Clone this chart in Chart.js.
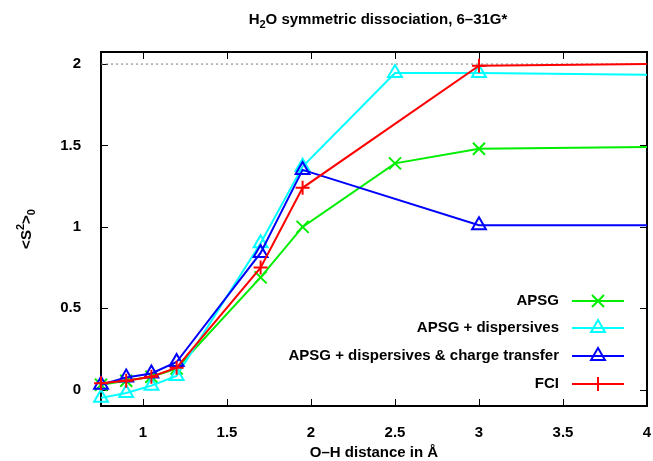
<!DOCTYPE html>
<html><head><meta charset="utf-8">
<script src="https://cdn.jsdelivr.net/npm/chart.js@4/dist/chart.umd.min.js"></script>
<style>html,body{margin:0;padding:0;background:#fff;overflow:hidden}#wrap{width:653px;height:461px;position:relative}</style>
</head><body><div id="wrap"><canvas id="c" width="653" height="461"></canvas></div>
<script>
const FONT = '"Liberation Sans Narrow", "Liberation Sans", Arial, sans-serif';
const xTicks = [1, 1.5, 2, 2.5, 3, 3.5, 4];
const xTickLabels = ['1', '1.5', '2', '2.5', '3', '3.5', '4'];
const yTicks = [0, 0.5, 1, 1.5, 2];
const yTickLabels = ['0', '0.5', '1', '1.5', '2'];
const distFull = [0.75, 0.9, 1.05, 1.2, 1.7, 1.95, 2.5, 3.0, 4.0];
const distShort = [0.75, 0.9, 1.05, 1.2, 1.7, 1.95, 3.0, 4.0];
const apsg = [0.03, 0.055, 0.08, 0.13, 0.69, 1.00, 1.39, 1.48, 1.49];
const apsgDisp = [-0.05, -0.02, 0.025, 0.085, 0.90, 1.37, 1.945, 1.945, 1.935];
const apsgDispCT = [0.03, 0.075, 0.10, 0.17, 0.84, 1.35, 1.01, 1.01];
const fci = [0.04, 0.055, 0.08, 0.135, 0.75, 1.24, 1.99, 2.0];
const limitValue = 2;
const seriesNames = ['APSG', 'APSG + dispersives', 'APSG + dispersives & charge transfer', 'FCI'];
const titleMain = ['H', '2', 'O symmetric dissociation, 6\u201331G*'];
const xTitle = 'O\u2013H distance in \u00C5';

const pts = (xs, ys) => xs.map((v, i) => ({x: v, y: ys[i]}));
const styles = [
  {color: '#00ee00', style: 'crossRot', r: 8.5},
  {color: '#00ffff', style: 'triangle', r: 8},
  {color: '#0000ff', style: 'triangle', r: 8},
  {color: '#ff0000', style: 'cross', r: 7}
];
const seriesData = [pts(distFull, apsg), pts(distFull, apsgDisp), pts(distShort, apsgDispCT), pts(distShort, fci)];

const datasets = seriesData.map((d, i) => ({
  label: seriesNames[i],
  data: d,
  borderColor: styles[i].color,
  backgroundColor: 'rgba(0,0,0,0)',
  pointBorderColor: styles[i].color,
  pointBackgroundColor: 'rgba(0,0,0,0)',
  pointStyle: styles[i].style,
  pointRadius: ctx => (ctx.raw && ctx.raw.x >= 4 ? 0 : styles[i].r),
  pointBorderWidth: 2,
  borderWidth: 2,
  tension: 0,
  clip: false,
  order: 4 - i
}));
datasets.push({
  label: 'limit',
  data: [{x: 0.75, y: limitValue}, {x: 4, y: limitValue}],
  borderColor: '#777',
  borderDash: [2, 3],
  borderWidth: 1,
  pointRadius: 0,
  order: 10
});

function drawRich(ctx, parts, x, y, size, align) {
  const small = Math.round(size * 0.72);
  let w = 0;
  parts.forEach(p => { ctx.font = 'bold ' + (p[1] ? small : size) + 'px ' + FONT; w += ctx.measureText(p[0]).width; });
  let cx = align === 'center' ? x - w / 2 : x;
  parts.forEach(p => {
    const s = p[1] ? small : size;
    ctx.font = 'bold ' + s + 'px ' + FONT;
    const dy = p[1] === 1 ? size * 0.3 : (p[1] === 2 ? -size * 0.38 : 0);
    ctx.fillText(p[0], cx, y + dy);
    cx += ctx.measureText(p[0]).width;
  });
}

const decor = {
  id: 'decor',
  beforeDatasetsDraw(chart) {
    const {ctx, chartArea: a, scales: {x, y}} = chart;
    ctx.save();
    ctx.strokeStyle = '#000';
    ctx.lineWidth = 1;
    const tl = 7;
    ctx.beginPath();
    xTicks.forEach(v => {
      const px = Math.round(x.getPixelForValue(v)) + 0.5;
      ctx.moveTo(px, a.bottom); ctx.lineTo(px, a.bottom - tl);
      ctx.moveTo(px, a.top); ctx.lineTo(px, a.top + tl);
    });
    yTicks.forEach(v => {
      const py = Math.round(y.getPixelForValue(v)) + 0.5;
      ctx.moveTo(a.left, py); ctx.lineTo(a.left + tl, py);
      ctx.moveTo(a.right, py); ctx.lineTo(a.right - tl, py);
    });
    ctx.stroke();
    ctx.lineWidth = 2;
    ctx.strokeRect(a.left, a.top, a.right - a.left, a.bottom - a.top);
    ctx.restore();
  },
  afterDraw(chart) {
    const {ctx, chartArea: a} = chart;
    ctx.save();
    ctx.fillStyle = '#000';
    ctx.textBaseline = 'middle';
    drawRich(ctx, [[titleMain[0], 0], [titleMain[1], 1], [titleMain[2], 0]], 378, 20, 15, 'center');
    ctx.textAlign = 'center';
    ctx.font = 'bold 15px ' + FONT;
    ctx.fillText(xTitle, (a.left + a.right) / 2, 453);
    ctx.textAlign = 'left';
    ctx.save();
    ctx.translate(27, (a.top + a.bottom) / 2);
    ctx.rotate(-Math.PI / 2);
    drawRich(ctx, [['<S', 0], ['2', 2], ['>', 0], ['0', 1]], 0, 0, 15, 'center');
    ctx.restore();
    const rows = [301, 328, 356, 384];
    seriesNames.forEach((name, i) => {
      const yy = rows[i];
      ctx.textAlign = 'right';
      ctx.font = 'bold 15px ' + FONT;
      ctx.fillStyle = '#000';
      ctx.fillText(name, 559, yy);
      ctx.strokeStyle = styles[i].color;
      ctx.lineWidth = 2;
      ctx.beginPath(); ctx.moveTo(572, yy); ctx.lineTo(624, yy); ctx.stroke();
      ctx.fillStyle = 'rgba(0,0,0,0)';
      Chart.helpers.drawPoint(ctx, {pointStyle: styles[i].style, radius: styles[i].r, borderWidth: 2, rotation: 0}, 598, yy);
    });
    ctx.restore();
  }
};

new Chart(document.getElementById('c'), {
  type: 'line',
  data: {datasets},
  options: {
    responsive: false,
    animation: false,
    devicePixelRatio: 1,
    layout: {autoPadding: false, padding: {left: 0, right: 6, top: 52, bottom: 0}},
    plugins: {legend: {display: false}, title: {display: false}, tooltip: {enabled: false}},
    scales: {
      x: {
        type: 'linear', min: 0.75, max: 4,
        grid: {display: false}, border: {display: false},
        afterBuildTicks: s => { s.ticks = xTicks.map(v => ({value: v})); },
        afterFit: s => { s.height = 55; s.paddingLeft = 0; s.paddingRight = 0; },
        ticks: {
          padding: 10, color: '#000', maxRotation: 0, autoSkip: false,
          font: {family: FONT, size: 15, weight: 'bold'},
          callback: (v) => xTickLabels[xTicks.indexOf(v)]
        }
      },
      y: {
        type: 'linear', min: -0.1, max: 2.074,
        grid: {display: false}, border: {display: false},
        afterBuildTicks: s => { s.ticks = yTicks.map(v => ({value: v})); },
        afterFit: s => { s.width = 101; s.paddingTop = 0; s.paddingBottom = 0; },
        ticks: {
          padding: 12, color: '#000', autoSkip: false,
          font: {family: FONT, size: 15, weight: 'bold'},
          callback: (v) => yTickLabels[yTicks.indexOf(v)]
        }
      }
    }
  },
  plugins: [decor]
});
</script>
</body></html>
